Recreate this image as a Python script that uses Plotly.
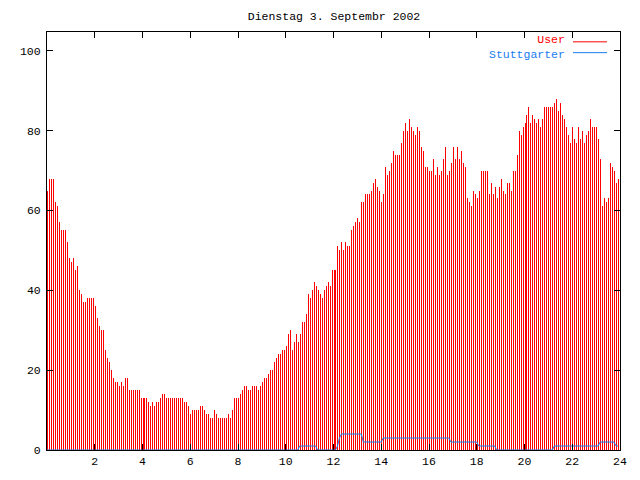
import plotly.graph_objects as go

# 5-minute samples, one row per hour
user = [
    65, 68, 68, 68, 62, 61, 57, 55, 55, 55, 52, 48,
    47, 48, 45, 46, 40, 39, 37, 37, 38, 38, 38, 38,
    36, 33, 31, 30, 30, 25, 23, 22, 20, 18, 17, 17,
    16, 17, 16, 18, 18, 15, 15, 15, 15, 15, 15, 13,
    13, 13, 13, 12, 11, 12, 11, 12, 12, 13, 14, 14,
    13, 13, 13, 13, 13, 13, 13, 13, 13, 12, 12, 11,
    9, 10, 10, 10, 10, 11, 11, 10, 9, 9, 8, 8,
    10, 9, 8, 8, 8, 8, 8, 9, 8, 10, 13, 13,
    13, 14, 15, 16, 16, 15, 15, 16, 16, 16, 15, 16,
    17, 18, 18, 19, 20, 20, 22, 23, 24, 24, 25, 25,
    26, 29, 30, 25, 27, 29, 27, 29, 32, 32, 34, 39,
    38, 40, 42, 41, 40, 39, 38, 40, 41, 42, 41, 45,
    45, 45, 51, 50, 52, 50, 52, 51, 51, 55, 56, 57,
    58, 57, 62, 62, 64, 64, 64, 65, 67, 68, 66, 65,
    62, 64, 71, 69, 70, 72, 75, 74, 74, 74, 77, 80,
    82, 80, 83, 81, 80, 79, 81, 80, 76, 75, 71, 71,
    70, 70, 73, 69, 71, 69, 70, 73, 76, 69, 70, 72,
    76, 73, 76, 73, 75, 72, 71, 63, 62, 61, 65, 64,
    63, 65, 70, 70, 70, 70, 64, 67, 64, 66, 63, 66,
    68, 65, 64, 67, 67, 65, 70, 70, 74, 80, 79, 81,
    82, 84, 86, 82, 84, 83, 82, 83, 81, 83, 86, 86,
    86, 86, 86, 87, 88, 85, 87, 84, 83, 81, 79, 77,
    81, 78, 77, 81, 78, 80, 77, 79, 80, 83, 81, 81,
    81, 78, 73, 61, 63, 62, 63, 72, 71, 70, 67, 68,
]

stuttgarter = [
    0, 0, 0, 0, 0, 0, 0, 0, 0, 0, 0, 0,
    0, 0, 0, 0, 0, 0, 0, 0, 0, 0, 0, 0,
    0, 0, 0, 0, 0, 0, 0, 0, 0, 0, 0, 0,
    0, 0, 0, 0, 0, 0, 0, 0, 0, 0, 0, 0,
    0, 0, 0, 0, 0, 0, 0, 0, 0, 0, 0, 0,
    0, 0, 0, 0, 0, 0, 0, 0, 0, 0, 0, 0,
    0, 0, 0, 0, 0, 0, 0, 0, 0, 0, 0, 0,
    0, 0, 0, 0, 0, 0, 0, 0, 0, 0, 0, 0,
    0, 0, 0, 0, 0, 0, 0, 0, 0, 0, 0, 0,
    0, 0, 0, 0, 0, 0, 0, 0, 0, 0, 0, 0,
    0, 0, 0, 0, 0, 0, 0, 1, 1, 1, 1, 1,
    1, 1, 1, 1, 0, 0, 0, 0, 0, 0, 0, 0,
    0, 0, 1, 3, 4, 4, 4, 4, 4, 4, 4, 4,
    4, 4, 4, 2, 2, 2, 2, 2, 2, 2, 2, 2,
    2, 3, 3, 3, 3, 3, 3, 3, 3, 3, 3, 3,
    3, 3, 3, 3, 3, 3, 3, 3, 3, 3, 3, 3,
    3, 3, 3, 3, 3, 3, 3, 3, 3, 3, 3, 2,
    2, 2, 2, 2, 2, 2, 2, 2, 2, 2, 2, 2,
    2, 1, 1, 1, 1, 1, 1, 1, 1, 1, 0, 0,
    0, 0, 0, 0, 0, 0, 0, 0, 0, 0, 0, 0,
    0, 0, 0, 0, 0, 0, 0, 0, 0, 0, 0, 0,
    0, 0, 0, 1, 1, 1, 1, 1, 1, 1, 1, 1,
    1, 1, 1, 1, 1, 1, 1, 1, 1, 1, 1, 1,
    1, 1, 2, 2, 2, 2, 2, 2, 2, 2, 1, 1,
]

sample_minutes = 5
hours = [i * sample_minutes / 60 for i in range(len(user))]

x_ticks = [2, 4, 6, 8, 10, 12, 14, 16, 18, 20, 22, 24]
y_ticks = [0, 20, 40, 60, 80, 100]
title_text = "Dienstag 3. Septembr 2002"
series_names = ["User", "Stuttgarter"]

RED = "#ff0000"
BLUE = "#1a7cf0"
FONT = "Liberation Mono"
FSIZE = 11.5

W, H = 640, 480
L, R, T, B = 47, 20, 32, 23
pw, ph = W - L - R, H - T - B
one_px_hours = 24 / pw  # impulse width = one screen pixel

fig = go.Figure()
fig.add_trace(go.Bar(
    x=hours, y=user, name=series_names[0],
    width=one_px_hours, offset=0,
    marker=dict(color="rgba(255,0,0,0.999)", line=dict(width=0)),
    showlegend=False,
))
fig.add_trace(go.Scatter(
    x=hours, y=stuttgarter, name=series_names[1], mode="lines",
    line=dict(color=BLUE, width=1), showlegend=False,
))


def px_x(p):
    return (p - L) / pw


def px_y(p):
    return (H - B - p) / ph


# legend (gnuplot style: coloured text, line sample to its right)
legend_text = (f"<span style='color:{RED}'>{series_names[0]}</span><br>"
               f"<span style='color:{BLUE}'>{series_names[1]}</span>")
fig.add_annotation(
    x=px_x(566), y=px_y(47.5), xref="paper", yref="paper",
    text=legend_text, showarrow=False, xanchor="right", yanchor="middle",
    align="right", borderpad=0,
    font=dict(family=FONT, size=FSIZE, color="black"),
)
for col, ypx in [(RED, 42), (BLUE, 53)]:
    fig.add_shape(
        type="line", xref="paper", yref="paper",
        x0=px_x(573), x1=px_x(607), y0=px_y(ypx), y1=px_y(ypx),
        line=dict(color=col, width=1),
    )

axis_common = dict(
    showline=True, linecolor="black", linewidth=1, mirror="allticks",
    ticks="inside", ticklen=6, tickwidth=1, tickcolor="black",
    showgrid=False, zeroline=False,
    tickfont=dict(family=FONT, size=FSIZE, color="black"),
)

fig.update_layout(
    width=W, height=H,
    margin=dict(l=L, r=R, t=T, b=B, pad=0),
    paper_bgcolor="white", plot_bgcolor="white",
    bargap=0, bargroupgap=0,
    title=dict(
        text=title_text, x=px_x(334), xref="paper", xanchor="center",
        y=1 - 16 / H, yref="container", yanchor="middle",
        font=dict(family=FONT, size=FSIZE, color="black"),
    ),
    xaxis=dict(range=[0, 24], tickvals=x_ticks,
               ticktext=[str(v) for v in x_ticks], **axis_common),
    yaxis=dict(range=[0, 104.7], tickvals=y_ticks,
               ticktext=[str(v) for v in y_ticks], ticklabelstandoff=3,
               **axis_common),
)

fig.write_html(
    "out.html",
    config={"displayModeBar": False},
    post_script="document.body.style.margin='0';",
)
